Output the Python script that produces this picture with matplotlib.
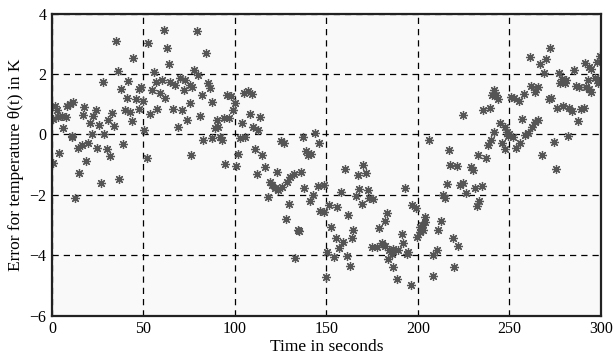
import matplotlib
matplotlib.use("Agg")
import matplotlib.pyplot as plt

time_s = [0.4, 0.7, 1.6, 2.6, 3.5, 4.0, 5.3, 5.9, 7.7, 8.0, 9.9, 10.8, 11.2, 11.7, 12.6,
          14.4, 14.9, 16.3, 16.8, 17.7, 18.6, 19.9, 20.8, 21.7, 22.6, 24.1, 24.8, 25.9,
          26.6, 27.7, 28.5, 29.9, 30.8, 31.8, 32.7, 34.1, 34.9, 36.0, 36.8, 37.8, 38.7,
          40.0, 40.9, 41.8, 42.7, 43.8, 44.0, 46.0, 47.3, 47.8, 48.6, 50.0, 50.5, 51.8,
          52.7, 53.6, 54.6, 55.8, 56.9, 57.6, 59.1, 60.0, 61.0, 61.9, 62.8, 63.7, 64.6,
          66.0, 67.3, 69.1, 70.1, 71.0, 71.9, 72.8, 73.7, 75.4, 75.4, 76.0, 76.6, 77.7,
          79.0, 79.9, 80.8, 82.1, 82.7, 83.9, 85.4, 86.3, 87.2, 87.6, 89.1, 89.9, 90.9,
          91.8, 92.7, 94.2, 94.8, 95.4, 96.7, 97.8, 99.1, 100.0, 100.8, 101.8, 102.7,
          103.7, 105.1, 105.5, 106.9, 108.2, 109.1, 110.0, 110.9, 111.8, 112.8, 113.7,
          114.9, 116.4, 117.9, 119.2, 120.1, 121.9, 122.8, 123.7, 125.1, 125.5, 127.0,
          127.9, 128.3, 129.7, 130.1, 132.5, 132.8, 134.3, 135.1, 136.2, 136.9, 137.9,
          138.7, 139.8, 141.1, 141.6, 142.9, 143.8, 145.2, 146.0, 146.5, 148.4, 148.4,
          149.6, 150.2, 151.4, 152.7, 154.0, 155.1, 155.5, 157.0, 157.7, 158.8, 160.0,
          161.0, 161.9, 162.8, 163.7, 164.6, 166.0, 167.3, 167.9, 169.2, 170.1, 171.5,
          172.8, 173.4, 174.7, 175.6, 177.4, 178.9, 180.2, 181.9, 182.0, 182.8, 183.8,
          184.3, 185.6, 186.1, 186.5, 188.7, 189.2, 191.1, 192.0, 192.9, 193.8, 194.7,
          196.2, 196.5, 198.9, 199.3, 201.1, 201.1, 202.0, 202.9, 203.8, 203.8, 206.2,
          208.0, 208.0, 210.2, 211.1, 212.4, 213.9, 214.8, 216.1, 217.2, 217.6, 218.9,
          219.9, 221.2, 222.0, 223.0, 224.8, 224.8, 226.3, 229.0, 230.0, 230.9, 232.1,
          232.7, 233.6, 235.1, 235.8, 236.9, 238.1, 239.1, 239.9, 240.5, 241.8, 241.8,
          242.7, 243.6, 244.8, 246.0, 247.3, 247.3, 248.5, 249.1, 250.0, 250.9, 251.8,
          252.7, 253.6, 255.1, 255.8, 256.9, 258.2, 258.7, 260.0, 261.0, 261.9, 262.4,
          263.7, 263.7, 265.5, 265.5, 266.8, 267.9, 268.6, 269.7, 271.5, 272.3, 272.8,
          274.1, 275.2, 275.9, 277.0, 277.4, 278.8, 279.5, 280.1, 281.0, 281.9, 282.5,
          284.3, 285.2, 286.1, 287.4, 287.9, 289.2, 290.5, 291.1, 291.6, 292.9, 293.4,
          293.4, 294.7, 294.7, 296.6, 297.8, 298.4, 299.3, 299.6]

error_K = [-0.94, 0.50, 0.94, 0.80, 0.58, -0.61, 0.61, 0.20, 0.58, 0.94, 1.00, -0.08, -0.05, 1.08, -2.10,
           -0.46, -1.27, -0.35, 0.64, 0.91, -0.88, -0.30, 0.38, 0.01, 0.61, 0.80, -0.46, 0.31,
           -1.60, 1.73, 0.01, -0.50, 0.47, -0.72, 0.72, 0.27, 3.10, 2.11, -1.49, 1.49, -0.33,
           0.80, 1.19, 1.78, 0.75, 0.45, 2.54, 1.17, 1.49, 0.83, 1.56, 1.10, 0.14, -0.77,
           3.01, 0.67, 1.47, 2.07, 1.74, 0.84, 1.36, 1.80, 3.47, 1.19, 2.85, 2.32, 1.74,
           0.83, 1.63, 0.25, 1.85, 0.80, 1.47, 1.80, 0.47, 1.63, 1.03, -0.68, 1.58, 2.13,
           3.42, 1.96, 0.61, 1.30, -0.19, 2.68, 1.71, 1.52, -0.13, 1.08, 0.20, 0.47, 0.25,
           -0.08, -0.19, 0.55, -0.98, 1.30, 0.53, 1.27, 0.80, 1.03, -1.05, -0.65, -0.13,
           0.38, 1.38, -0.10, 1.44, 0.66, 1.33, 0.25, -0.50, -1.31, 0.14, 0.58,
           -0.68, -1.07, -2.07, -1.57, -1.68, -1.79, -1.26, -1.84, -0.22, -1.75, -0.30,
           -2.81, -1.57, -2.31, -1.40, -1.31, -4.09, -3.15, -3.19, -1.24, -0.10, -1.79,
           -0.54, -0.68, -2.20, -0.65, -2.01, 0.03, -1.71, -0.28, -2.52, -1.68, -2.56,
           -4.72, -3.89, -2.34, -3.06, -4.05, -3.44, -2.40, -3.77, -1.90, -3.56, -1.13,
           -4.03, -2.67, -4.36, -3.44, -3.17, -2.04, -1.35, -1.82, -2.29, -1.02, -1.27,
           -1.84, -2.12, -3.74, -2.15, -3.72, -3.11, -3.61, -2.86, -3.70, -2.60, -4.11,
           -3.81, -3.96, -4.40, -3.78, -4.77, -3.83, -3.30, -3.61, -1.79, -3.96, -3.89,
           -4.99, -2.34, -2.45, -3.41, -3.06, -3.22, -3.00, -3.15, -2.73, -2.89, -0.19,
           -4.00, -4.69, -3.83, -3.15, -2.86, -2.01, -2.09, -1.65, -0.52, -1.02, -3.44,
           -4.38, -1.05, -3.70, -1.68, -1.60, 0.64, -1.95, -1.07, -1.18, -1.79, -2.38,
           -0.68, -2.20, -1.71, 0.80, -0.79, -0.36, 0.86, -0.17, 1.30, 1.47, 0.09,
           1.30, 1.16, 0.38, -0.30, 0.25, -0.50, 0.09, -0.06, 0.01, 1.24, -0.08,
           1.19, -0.46, 1.11, -0.30, 0.50, 1.33, -0.02, 0.03, 2.57, 1.60, 0.25,
           1.41, 0.42, 1.56, 0.47, 2.32, -0.68, 2.02, 2.48, 1.16, 2.85, 1.22,
           -0.24, -1.13, 0.86, 2.02, 1.71, 1.82, 0.94, 1.71, 1.80, -0.06, 0.86,
           0.78, 2.13, 1.60, 0.45, 1.56, 0.83, 0.86, 2.35, 1.56, 1.80, 2.24,
           1.49, 2.15, 1.41, 1.85, 2.40, 1.69, 1.82, 2.59]

x_ticks = [0, 50, 100, 150, 200, 250, 300]
y_ticks = [-6, -4, -2, 0, 2, 4]

plt.rcParams['font.family'] = ['Liberation Serif', 'DejaVu Serif']

fig = plt.figure(figsize=(6.13, 3.61), dpi=100)
ax = fig.add_axes([0.0848, 0.1255, 0.8956, 0.8371])
ax.set_facecolor('#f9f9f9')

ax.plot(time_s, error_K, linestyle='none', marker=(8, 2, 0), markersize=6.5,
        markeredgewidth=0.9, color='#555555', markeredgecolor='#555555')

ax.set_xlim(0, 300)
ax.set_ylim(-6, 4)
ax.set_xticks(x_ticks)
ax.set_yticks(y_ticks)
ax.grid(True, color='black', linestyle=(0, (5, 4)), linewidth=0.9)
ax.tick_params(direction='in', length=0, labelsize=11.5, pad=4)
for s in ax.spines.values():
    s.set_linewidth(1.6)
    s.set_color('#222222')

ax.set_xlabel('Time in seconds', fontsize=12.5, labelpad=1)
ax.set_ylabel('Error for temperature θ(t) in K', fontsize=12.5, labelpad=4)

fig.savefig('out.png', dpi=100)
